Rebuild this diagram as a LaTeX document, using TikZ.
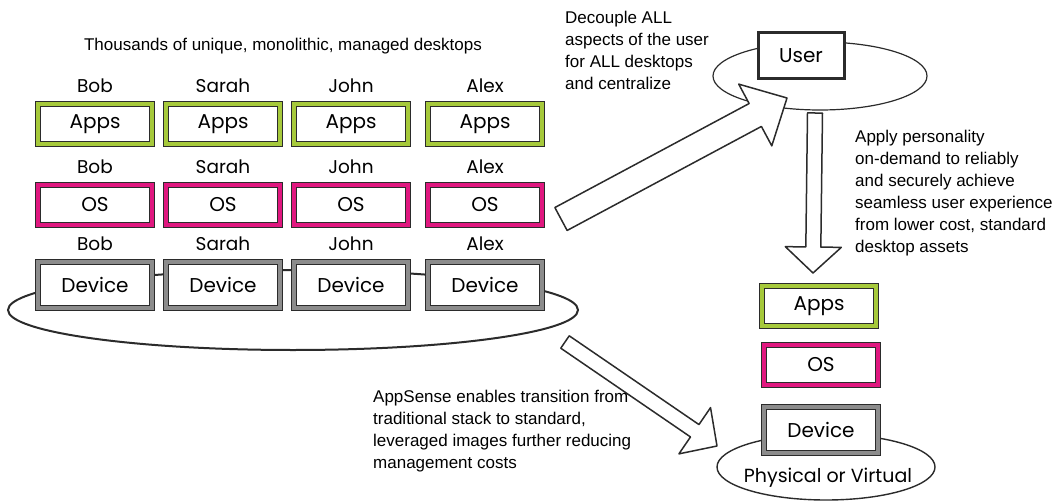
\documentclass[tikz,border=0pt]{standalone}
\usepackage{fontspec}
\setmainfont{Liberation Sans}
\newfontfamily\handfont{Poppins}
\usetikzlibrary{calc}
\definecolor{appgreen}{HTML}{A6C93B}
\definecolor{osmagenta}{HTML}{E0177F}
\definecolor{devgrey}{HTML}{8C8C8C}
\definecolor{sketch}{HTML}{2B2B2B}
\tikzset{layer/.style={draw=sketch, line width=1.1pt, double=#1, double distance=3.6pt, fill=white, minimum width=114pt, minimum height=40pt, inner sep=0pt, font=\handfont\fontsize{20}{20}\selectfont}}
\tikzset{owner/.style={inner sep=0pt, font=\handfont\fontsize{18.5}{18.5}\selectfont}}
\tikzset{blurb/.style={align=left, anchor=north west, inner sep=0pt, font=\fontsize{17}{22}\selectfont}}
\tikzset{blockarr/.style={draw=sketch, line width=1.5pt, fill=white, line join=round}}
\tikzset{plate/.style={draw=sketch, line width=2pt}}
% hollow block arrow: from, to, shaft half width, head half width, head length
\newcommand{\blockarrow}[5]{%
  \draw[blockarr] let \p1=($(#2)-(#1)$), \n1={atan2(\y1,\x1)} in
    ($(#1)+(\n1+90:#3)$) -- ($(#2)+(\n1:-#5)+(\n1+90:#3)$)
    -- ($(#2)+(\n1:-#5)+(\n1+90:#4)$) -- (#2)
    -- ($(#2)+(\n1:-#5)+(\n1-90:#4)$) -- ($(#2)+(\n1:-#5)+(\n1-90:#3)$)
    -- ($(#1)+(\n1-90:#3)$) -- cycle;}

\begin{document}
\begin{tikzpicture}[x=1pt, y=-1pt]
\useasboundingbox (0,0) rectangle (1058,503);

% managed desktops
\node[inner sep=0pt, font=\fontsize{17}{20}\selectfont] (title) at (283,46) {Thousands of unique, monolithic, managed desktops};
\draw[plate] (293,310) ellipse [x radius=285pt, y radius=40pt];
\foreach \i/\who/\cx in {1/Bob/95, 2/Sarah/223, 3/John/351, 4/Alex/485} {
  \node[owner] (appname\i) at (\cx,86) {\who};
  \node[layer=appgreen] (apps\i) at (\cx,124) {Apps};
  \node[owner] (osname\i) at (\cx,167) {\who};
  \node[layer=osmagenta] (os\i) at (\cx,205) {OS};
  \node[owner] (devname\i) at (\cx,244) {\who};
  \node[layer=devgrey, minimum height=46pt] (dev\i) at (\cx,285) {Device};
}

% user
\draw[sketch, line width=1.2pt] (820,76) ellipse [x radius=107pt, y radius=34pt];
\node[draw=sketch, line width=3pt, fill=white, minimum width=86pt, minimum height=46pt, font=\handfont\fontsize{20}{20}\selectfont] (user) at (801,56) {User};

% standard stack
\draw[sketch, line width=1.4pt] (826,467) ellipse [x radius=109pt, y radius=33pt];
\node[layer=appgreen] (apps) at (819,306) {Apps};
\node[layer=osmagenta] (os) at (821,365) {OS};
\node[layer=devgrey, minimum height=46pt] (dev) at (821,430) {Device};
\node[owner, font=\handfont\fontsize{19}{19}\selectfont] (platform) at (828,478) {Physical or Virtual};

% arrows
\coordinate (decouple) at (561,219);
\coordinate (usertip) at (787,98);
\coordinate (userfoot) at (815,113);
\coordinate (stacktip) at (813,273);
\coordinate (transit) at (565,342);
\coordinate (platformtip) at (717,446);
\blockarrow{decouple}{usertip}{13pt}{35pt}{36pt}
\blockarrow{userfoot}{stacktip}{7.5pt}{28pt}{26pt}
\blockarrow{transit}{platformtip}{7.5pt}{28pt}{27pt}

% notes
\node[blurb] (decnote) at (565,11) {Decouple ALL\\aspects of the user\\for ALL desktops\\and centralize};
\node[blurb] (applynote) at (855,130) {Apply personality\\on-demand to reliably\\and securely achieve\\seamless user experience\\from lower cost, standard\\desktop assets};
\node[blurb] (sensenote) at (373,390) {AppSense enables transition from\\traditional stack to standard,\\leveraged images further reducing\\management costs};
\end{tikzpicture}
\end{document}
